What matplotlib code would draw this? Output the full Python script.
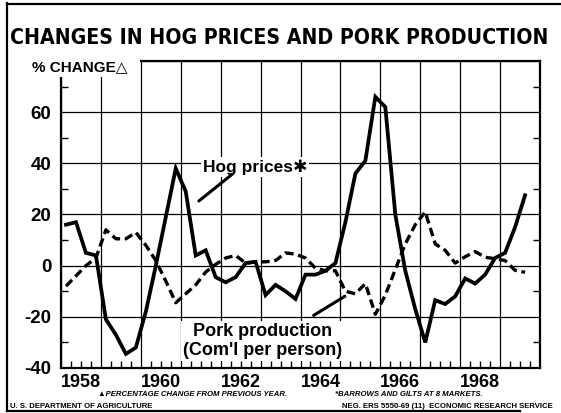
import numpy as np
import matplotlib
matplotlib.use("Agg")
import matplotlib.pyplot as plt
from matplotlib import font_manager
from matplotlib.lines import Line2D
from matplotlib.patches import Rectangle

# data: quarterly % change from previous year, 1958 Q1 .. 1969 Q3
quarters = np.arange(1958, 1969.75, 0.25) + 0.125
hog_prices = [16, 17, 5, 4, -21, -27, -34.5, -32, -18, 0, 19, 38,
              29, 4, 6, -4.5, -6.5, -4.5, 1, 1.5, -11.5, -7.5, -10, -13,
              -3.5, -3.5, -2, 1, 17, 36, 41, 66, 62, 20, -2, -17,
              -30, -13.5, -15, -12, -5, -7, -3.5, 3, 5, 15, 27.5]
pork_production = [-8, -4, 0, 3, 14, 10.5, 10.5, 13, 8, 2, -6, -14.5,
                   -11, -7.5, -2.5, 0.5, 3, 4, 1, 1.5, 1.5, 2, 5, 4.5,
                   3, -1, -2, -2, -10, -11, -7, -19, -11.5, -1.5, 8.5, 16,
                   21, 8.5, 6, 1, 3.5, 5.5, 3.3, 2.7, 2, -1.8, -2.6]
year_labels = ["1958", "1960", "1962", "1964", "1966", "1968"]
label_years = [1958, 1960, 1962, 1964, 1966, 1968]
y_ticks = [-40, -20, 0, 20, 40, 60, 80]
y_labels = ["-40", "-20", "0", "20", "40", "60", ""]

plt.rcParams['font.family'] = ['Liberation Sans', 'DejaVu Sans']
W, H = 561, 413
fig = plt.figure(figsize=(W / 100, H / 100), dpi=100)
ax = fig.add_axes([61 / W, 1 - 368 / H, (540 - 61) / W, (368 - 61) / H])

ax.plot(quarters, hog_prices, color='black', lw=2.7, solid_joinstyle='miter', zorder=5)
ax.plot(quarters, pork_production, color='black', lw=2.4,
        linestyle=(0, (2.6, 1.4)), zorder=5)

ax.set_xlim(1958, 1970)
ax.set_ylim(-40, 80)
ax.set_axisbelow(True)

# year grid + quarter ticks
ax.set_xticks(np.arange(1958, 1971))
ax.set_xticklabels([])
ax.set_xticks(np.arange(1958, 1970.01, 0.25), minor=True)
ax.tick_params(axis='x', which='major', length=0)
ax.tick_params(axis='x', which='minor', direction='in', length=5, width=1)

ax.set_yticks(y_ticks)
ax.set_yticklabels(y_labels, fontsize=13.5, fontweight='bold')
ax.set_yticks(np.arange(-30, 80, 20), minor=True)
ax.tick_params(axis='y', which='major', length=0, pad=7)
ax.tick_params(axis='y', which='minor', direction='in', length=5, width=1,
               left=True, right=True)
ax.grid(True, which='major', color='black', lw=0.9)
for s in ax.spines.values():
    s.set_linewidth(1.6)

sec = ax.secondary_xaxis('bottom')
sec.set_xticks([y + 0.5 for y in label_years])
sec.set_xticklabels(year_labels, fontsize=13, fontweight='bold')
sec.tick_params(length=0, pad=4)
sec.spines['bottom'].set_visible(False)

# series labels
ax.text(1961.55, 38.5, "Hog prices\u2731", fontsize=12.5, fontweight='bold',
        va='center', ha='left', zorder=4,
        bbox=dict(facecolor='white', edgecolor='none', pad=1.5))
ax.annotate('', xy=(1961.4, 24.6), xytext=(1962.35, 36.5),
            arrowprops=dict(arrowstyle='-', lw=2.2, color='black'), zorder=4)
ax.text(1963.05, -29.5, "Pork production\n(Com'l per person)", fontsize=13,
        fontweight='bold', va='center', ha='center', linespacing=1.15, zorder=4,
        bbox=dict(facecolor='white', edgecolor='none', pad=1.5))
ax.annotate('', xy=(1965.17, -11.4), xytext=(1964.27, -20.0),
            arrowprops=dict(arrowstyle='-', lw=2.2, color='black'), zorder=4)

# title, fitted to width
names = {f.name for f in font_manager.fontManager.ttflist}
tfam = ['Liberation Sans Narrow'] if 'Liberation Sans Narrow' in names else ['DejaVu Sans']
title = fig.text(279 / W, 1 - 38 / H, "CHANGES IN HOG PRICES AND PORK PRODUCTION",
                 ha='center', va='center', fontsize=20, fontweight='bold',
                 family=tfam, fontstretch='condensed')
fig.canvas.draw()
tw = title.get_window_extent().width
title.set_fontsize(20 * 538 / tw)

# unit label sits in a notch cut out of the top-left corner of the grid
fig.add_artist(Rectangle((50 / W, 1 - 77 / H), 90 / W, 20 / H,
                         transform=fig.transFigure, facecolor='white',
                         edgecolor='none', zorder=1))
fig.text(32 / W, 1 - 67 / H, "% CHANGE\u25b3", fontsize=11, fontweight='bold',
         va='center', ha='left', zorder=2)

# footnotes
fig.text(98 / W, 1 - 395 / H, "\u25b2PERCENTAGE CHANGE FROM PREVIOUS YEAR.",
         fontsize=5.6, fontweight='bold', style='italic', va='center')
fig.text(335 / W, 1 - 395 / H, "*BARROWS AND GILTS AT 8 MARKETS.",
         fontsize=5.6, fontweight='bold', style='italic', va='center')
fig.text(10 / W, 1 - 406 / H, "U. S. DEPARTMENT OF AGRICULTURE",
         fontsize=5.6, fontweight='bold', va='center')
fig.text(553 / W, 1 - 406 / H, "NEG. ERS 5550-69 (11)  ECONOMIC RESEARCH SERVICE",
         fontsize=5.6, fontweight='bold', va='center', ha='right')

# frame around the figure
for xs, ys in [([7, 7], [3, 411]), ([7, 560], [4, 4]), ([7, 520], [411, 411])]:
    fig.add_artist(Line2D([x / W for x in xs], [1 - y / H for y in ys],
                          color='black', lw=1.6))

fig.savefig("out.png", dpi=100)
